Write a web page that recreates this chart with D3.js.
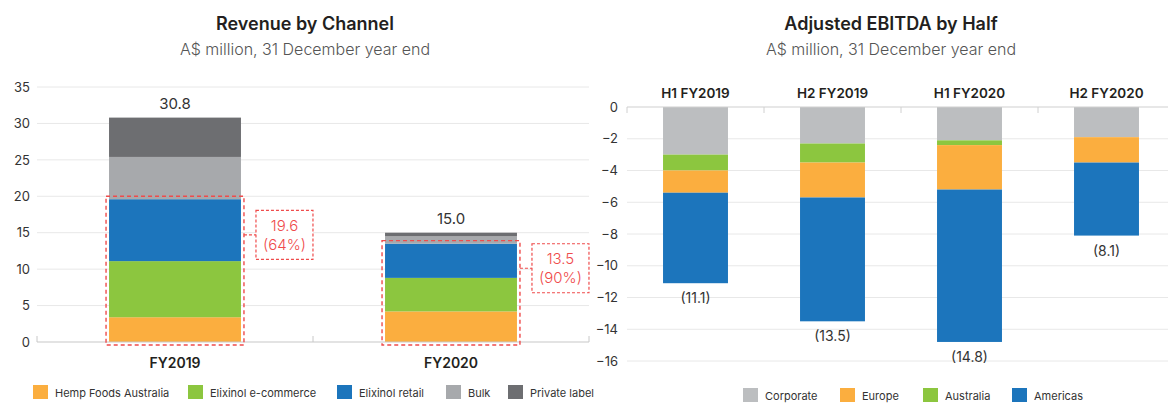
<!DOCTYPE html>
<html><head><meta charset="utf-8">
<script src="https://cdn.jsdelivr.net/npm/d3@7/dist/d3.min.js"></script>
<style>
html,body{margin:0;padding:0;background:#fff;}
svg{display:block;font-family:Inter,"Noto Sans",sans-serif;}
</style></head>
<body>
<svg id="c" width="1168" height="403"></svg>
<script>
// ---- Data: Revenue by Channel ----
const years = ["FY2019", "FY2020"];
const channels = ["Hemp Foods Australia", "Elixinol e-commerce", "Elixinol retail", "Bulk", "Private label"];
const hempFoods = [3.4, 4.2];
const ecommerce = [7.7, 4.6];
const retail = [8.5, 4.7];
const bulk = [5.8, 1.0];
const privateLabel = [5.4, 0.5];
const revTicks = [0, 5, 10, 15, 20, 25, 30, 35];

// ---- Data: Adjusted EBITDA by Half ----
const halves = ["H1 FY2019", "H2 FY2019", "H1 FY2020", "H2 FY2020"];
const regions = ["Corporate", "Australia", "Europe", "Americas"];
const regionLegend = ["Corporate", "Europe", "Australia", "Americas"];
const corporate = [-3.0, -2.3, -2.1, -1.9];
const australia = [-1.0, -1.2, -0.3, 0.0];
const europe = [-1.4, -2.2, -2.8, -1.6];
const americas = [-5.7, -7.8, -9.6, -4.6];
const ebitdaTicks = [0, -2, -4, -6, -8, -10, -12, -14, -16];

const chColor = d3.scaleOrdinal(channels, ["#FBAE3F", "#8CC63F", "#1C75BC", "#A7A9AC", "#6D6E71"]);
const rgColor = d3.scaleOrdinal(regions, ["#BCBEC0", "#8CC63F", "#FBAE3F", "#1C75BC"]);
const RED = "#EF4B4B";
const svg = d3.select("#c");
const fmt = d3.format(".1f");

// ================= LEFT CHART =================
const revRows = years.map((y, i) => ({
  year: y,
  "Hemp Foods Australia": hempFoods[i],
  "Elixinol e-commerce": ecommerce[i],
  "Elixinol retail": retail[i],
  "Bulk": bulk[i],
  "Private label": privateLabel[i]
}));
const revStack = d3.stack().keys(channels)(revRows);

const xL = d3.scaleBand().domain(years).range([37, 589]).padding(0);
const yL = d3.scaleLinear().domain([0, 35]).range([342, 87]);
const barWL = xL.bandwidth() * 0.478;
const bxL = d => xL(d) + (xL.bandwidth() - barWL) / 2;

const L = svg.append("g");
L.append("text").attr("x", 305).attr("y", 30).attr("text-anchor", "middle")
  .attr("font-size", 18).attr("font-weight", 600).attr("fill", "#231F20").text("Revenue by Channel");
L.append("text").attr("x", 305).attr("y", 55).attr("text-anchor", "middle")
  .attr("font-size", 16).attr("font-weight", 300).attr("fill", "#555").text("A$ million, 31 December year end");

// gridlines
L.append("g").selectAll("line").data(revTicks.filter(t => t !== 0)).join("line")
  .attr("x1", 37).attr("x2", 589).attr("y1", d => yL(d)).attr("y2", d => yL(d))
  .attr("stroke", "#E8E8E8").attr("stroke-width", 1);

// y axis labels
const yAxL = L.append("g").attr("transform", "translate(30,0)")
  .call(d3.axisLeft(yL).tickValues(revTicks).tickSize(0).tickPadding(0));
yAxL.select(".domain").remove();
yAxL.selectAll("text").attr("font-size", 13).attr("fill", "#333").attr("font-family", "Inter,sans-serif");

// bars
L.append("g").selectAll("g").data(revStack).join("g").attr("fill", d => chColor(d.key))
  .selectAll("rect").data(d => d).join("rect")
  .attr("x", d => bxL(d.data.year)).attr("width", barWL)
  .attr("y", d => yL(d[1])).attr("height", d => yL(d[0]) - yL(d[1]));

// baseline axis
L.append("line").attr("x1", 37).attr("x2", 589).attr("y1", yL(0)).attr("y2", yL(0))
  .attr("stroke", "#C8C8C8").attr("stroke-width", 1.2);
L.append("g").selectAll("line").data([xL.range()[0], xL(years[1]), xL.range()[1]]).join("line")
  .attr("x1", d => d).attr("x2", d => d).attr("y1", yL(0)).attr("y2", yL(0) - 6)
  .attr("stroke", "#C8C8C8");

// totals
L.append("g").selectAll("text").data(revRows).join("text")
  .attr("x", d => bxL(d.year) + barWL / 2)
  .attr("y", d => yL(channels.reduce((s, k) => s + d[k], 0)) - 9)
  .attr("text-anchor", "middle").attr("font-size", 15).attr("fill", "#333")
  .text(d => fmt(channels.reduce((s, k) => s + d[k], 0)));

// x labels
const xAxL = L.append("g").attr("transform", `translate(0,${yL(0) + 13})`)
  .call(d3.axisBottom(xL).tickSize(0).tickPadding(0));
xAxL.select(".domain").remove();
xAxL.selectAll("text").attr("font-size", 14).attr("font-weight", 600).attr("fill", "#231F20")
  .attr("font-family", "Inter,sans-serif").attr("dy", "0.9em");

// dashed highlight boxes (Elixinol core = HFA + e-commerce + retail)
const dash = "4,3";
revRows.forEach((d, i) => {
  const core = d["Hemp Foods Australia"] + d["Elixinol e-commerce"] + d["Elixinol retail"];
  const tot = channels.reduce((s, k) => s + d[k], 0);
  const x0 = bxL(d.year) - 3, x1 = bxL(d.year) + barWL + 3;
  const yTop = yL(core) - 3, yBot = yL(0) + 3;
  L.append("rect").attr("x", x0).attr("y", yTop).attr("width", x1 - x0).attr("height", yBot - yTop)
    .attr("fill", "none").attr("stroke", RED).attr("stroke-width", 1.4).attr("stroke-dasharray", dash);
  const cy = yL(core) + 0.25 * (yL(0) - yL(core));
  const bx = x1 + 12, bw = 57, bh = 49;
  L.append("line").attr("x1", x1).attr("x2", bx).attr("y1", cy).attr("y2", cy)
    .attr("stroke", RED).attr("stroke-width", 1.2).attr("stroke-dasharray", "3,2");
  L.append("rect").attr("x", bx).attr("y", cy - bh / 2).attr("width", bw).attr("height", bh)
    .attr("fill", "#fff").attr("stroke", RED).attr("stroke-width", 1.2).attr("stroke-dasharray", "3,2");
  L.append("text").attr("x", bx + bw / 2).attr("y", cy - 4).attr("text-anchor", "middle")
    .attr("font-size", 15).attr("font-weight", 300).attr("fill", RED).text(fmt(core));
  L.append("text").attr("x", bx + bw / 2).attr("y", cy + 15).attr("text-anchor", "middle")
    .attr("font-size", 15).attr("font-weight", 300).attr("fill", RED).text("(" + Math.round(core / tot * 100) + "%)");
});

// legend left
const legL = L.append("g").attr("transform", "translate(33,385)");
const legXL = [0, 155, 304, 413, 475];
channels.forEach((k, i) => {
  const g = legL.append("g").attr("transform", `translate(${legXL[i]},0)`);
  g.append("rect").attr("width", 15).attr("height", 14).attr("fill", chColor(k));
  g.append("text").attr("x", 22).attr("y", 11.5).attr("font-size", 11).attr("fill", "#333").text(k);
});

// ================= RIGHT CHART =================
const ebRows = halves.map((h, i) => ({
  half: h, Corporate: corporate[i], Australia: australia[i], Europe: europe[i], Americas: americas[i]
}));
const ebStack = d3.stack().keys(regions).offset(d3.stackOffsetDiverging)(ebRows);

const xR = d3.scaleBand().domain(halves).range([627, 1175]).padding(0);
const yR = d3.scaleLinear().domain([0, -16]).range([107, 361]);
const barWR = xR.bandwidth() * 0.474;
const bxR = d => xR(d) + (xR.bandwidth() - barWR) / 2;

const R = svg.append("g");
R.append("text").attr("x", 891).attr("y", 30).attr("text-anchor", "middle")
  .attr("font-size", 18).attr("font-weight", 600).attr("fill", "#231F20").text("Adjusted EBITDA by Half");
R.append("text").attr("x", 891).attr("y", 55).attr("text-anchor", "middle")
  .attr("font-size", 16).attr("font-weight", 300).attr("fill", "#555").text("A$ million, 31 December year end");

R.append("g").selectAll("line").data(ebitdaTicks.filter(t => t !== 0)).join("line")
  .attr("x1", 627).attr("x2", 1168).attr("y1", d => yR(d)).attr("y2", d => yR(d))
  .attr("stroke", "#E8E8E8").attr("stroke-width", 1);

const yAxR = R.append("g").attr("transform", "translate(618,0)")
  .call(d3.axisLeft(yR).tickValues(ebitdaTicks).tickSize(0).tickPadding(0));
yAxR.select(".domain").remove();
yAxR.selectAll("text").attr("font-size", 13).attr("fill", "#333").attr("font-family", "Inter,sans-serif");

R.append("g").selectAll("g").data(ebStack).join("g").attr("fill", d => rgColor(d.key))
  .selectAll("rect").data(d => d).join("rect")
  .attr("x", d => bxR(d.data.half)).attr("width", barWR)
  .attr("y", d => yR(d[1])).attr("height", d => Math.max(0, yR(d[0]) - yR(d[1])));

// zero axis
R.append("line").attr("x1", 627).attr("x2", 1168).attr("y1", yR(0)).attr("y2", yR(0))
  .attr("stroke", "#D0D0D0").attr("stroke-width", 1.2);
R.append("g").selectAll("line").data(halves).join("line")
  .attr("x1", d => xR(d)).attr("x2", d => xR(d)).attr("y1", yR(0)).attr("y2", yR(0) + 6)
  .attr("stroke", "#D0D0D0");

// category labels on top
const xAxR = R.append("g").attr("transform", `translate(0,${yR(0) - 9})`)
  .call(d3.axisTop(xR).tickSize(0).tickPadding(0));
xAxR.select(".domain").remove();
xAxR.selectAll("text").attr("font-size", 13.5).attr("font-weight", 600).attr("fill", "#231F20")
  .attr("font-family", "Inter,sans-serif");

// totals below bars
R.append("g").selectAll("text").data(ebRows).join("text")
  .attr("x", d => bxR(d.half) + barWR / 2)
  .attr("y", d => yR(regions.reduce((s, k) => s + d[k], 0)) + 20)
  .attr("text-anchor", "middle").attr("font-size", 14).attr("fill", "#333")
  .text(d => "(" + fmt(Math.abs(regions.reduce((s, k) => s + d[k], 0))) + ")");

// legend right
const legR = R.append("g").attr("transform", "translate(743,388)");
const legXR = [0, 97, 180, 269];
regionLegend.forEach((k, i) => {
  const g = legR.append("g").attr("transform", `translate(${legXR[i]},0)`);
  g.append("rect").attr("width", 15).attr("height", 14).attr("fill", rgColor(k));
  g.append("text").attr("x", 22).attr("y", 11.5).attr("font-size", 11).attr("fill", "#333").text(k);
});
</script>
</body></html>
